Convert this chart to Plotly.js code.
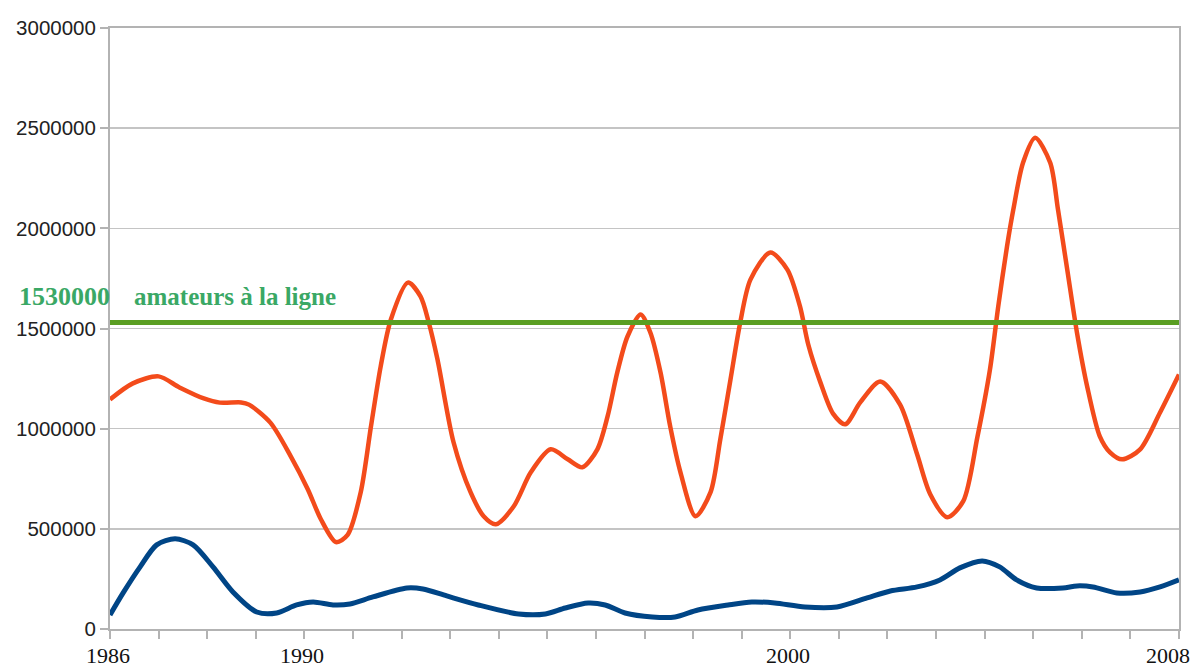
<!DOCTYPE html>
<html>
<head>
<meta charset="utf-8">
<script src="https://cdn.plot.ly/plotly-3.0.1.min.js"></script>
<style>html,body{margin:0;padding:0;background:#fff;}#chart{width:1193px;height:672px;}</style>
</head>
<body>
<div id="chart"></div>
<script>
// Orange series (years, values)
const orangeYears = [1986.00,1986.47,1987.00,1987.43,1987.93,1988.26,1988.70,1988.86,1989.30,1989.72,1990.07,1990.34,1990.65,1990.89,1991.16,1991.37,1991.57,1991.78,1992.13,1992.39,1992.56,1992.74,1993.07,1993.42,1993.69,1993.94,1994.31,1994.66,1995.07,1995.42,1995.72,1996.03,1996.24,1996.44,1996.65,1996.92,1997.12,1997.33,1997.53,1997.74,1998.05,1998.36,1998.56,1998.77,1998.97,1999.18,1999.59,1999.94,2000.20,2000.37,2000.62,2000.88,2001.13,2001.44,2001.85,2002.26,2002.61,2002.88,2003.23,2003.56,2003.85,2004.11,2004.28,2004.46,2004.59,2004.79,2005.04,2005.35,2005.51,2005.70,2005.90,2006.11,2006.37,2006.58,2006.83,2007.20,2007.61,2008.00];
const orangeValues = [1146000,1226000,1261000,1206000,1151000,1130000,1131000,1120000,1030000,862000,698000,548000,434000,470000,683000,1010000,1310000,1545000,1729000,1660000,1530000,1345000,932000,683000,563000,523000,613000,782000,897000,847000,807000,897000,1061000,1281000,1460000,1570000,1480000,1280000,1010000,782000,563000,683000,947000,1246000,1530000,1744000,1879000,1794000,1610000,1420000,1231000,1075000,1022000,1131000,1236000,1120000,872000,673000,558000,638000,957000,1296000,1610000,1909000,2093000,2327000,2452000,2327000,2093000,1794000,1480000,1211000,962000,882000,847000,897000,1081000,1271000];

// Blue series (years, values)
const blueYears = [1986.00,1986.27,1986.62,1986.96,1987.34,1987.71,1988.12,1988.53,1989.02,1989.43,1989.84,1990.18,1990.59,1990.94,1991.41,1992.11,1992.44,1992.93,1993.58,1994.41,1994.96,1995.37,1995.84,1996.19,1996.60,1997.16,1997.63,1998.10,1998.72,1999.21,1999.68,2000.30,2000.96,2001.58,2002.06,2002.61,2003.08,2003.49,2003.95,2004.31,2004.66,2005.07,2005.61,2005.90,2006.23,2006.72,2007.20,2007.61,2008.00];
const blueValues = [70000,180000,310000,420000,450000,420000,310000,185000,85000,80000,120000,135000,120000,125000,160000,205000,200000,165000,120000,75000,75000,105000,130000,120000,80000,60000,60000,95000,120000,135000,130000,110000,110000,155000,190000,210000,245000,305000,340000,310000,245000,205000,205000,215000,210000,180000,185000,210000,245000];

// Threshold line
const thresholdYears = [1986, 2008];
const thresholdValue = 1530000;
const thresholdLabel = "amateurs à la ligne";

// Axis tick labels
const xTickYears = [1986, 1990, 2000, 2008];
const yTickValues = [0, 500000, 1000000, 1500000, 2000000, 2500000, 3000000];

const traces = [
  {x: blueYears, y: blueValues, type: 'scatter', mode: 'lines',
   line: {color: '#004586', width: 5, shape: 'spline', smoothing: 0.8}, hoverinfo: 'skip'},
  {x: orangeYears, y: orangeValues, type: 'scatter', mode: 'lines',
   line: {color: '#f34b1b', width: 4.5, shape: 'spline', smoothing: 0.8}, hoverinfo: 'skip'},
  {x: thresholdYears, y: thresholdYears.map(() => thresholdValue), type: 'scatter', mode: 'lines',
   line: {color: '#5a9e22', width: 5}, hoverinfo: 'skip'}
];

const annotations = xTickYears.map((yr, i) => ({
  x: yr, y: 0, xref: 'x', yref: 'y', showarrow: false,
  text: String(yr), yanchor: 'top', yshift: -12,
  xanchor: i === xTickYears.length - 1 ? 'right' : 'center',
  xshift: i === xTickYears.length - 1 ? 13 : -2,
  font: {family: 'Liberation Serif', size: 22, color: '#111'}
}));
annotations.push({
  x: thresholdYears[0], y: thresholdValue, xref: 'x', yref: 'y', showarrow: false,
  text: String(thresholdValue), xanchor: 'right', yanchor: 'middle', yshift: 26, xshift: 2,
  font: {family: 'Liberation Serif', size: 26, color: '#3aa865', weight: 'bold'}
});
annotations.push({
  x: thresholdYears[0], y: thresholdValue, xref: 'x', yref: 'y', showarrow: false,
  text: thresholdLabel, xanchor: 'left', yanchor: 'middle', yshift: 26, xshift: 22,
  font: {family: 'Liberation Serif', size: 25, color: '#3aa865', weight: 'bold'}
});

const layout = {
  width: 1193, height: 672,
  margin: {l: 110, r: 14, t: 28, b: 43},
  paper_bgcolor: '#fff', plot_bgcolor: '#fff',
  showlegend: false,
  font: {family: 'Liberation Sans', color: '#222'},
  xaxis: {
    range: [1986, 2008], tickmode: 'linear', tick0: 1986, dtick: 1,
    showticklabels: false, ticks: 'outside', ticklen: 8, tickwidth: 2, tickcolor: '#b3b3b3',
    showgrid: false, zeroline: false,
    showline: true, mirror: true, linecolor: '#b3b3b3', linewidth: 2
  },
  yaxis: {
    range: [0, 3000000], tickmode: 'array', tickvals: yTickValues,
    ticktext: yTickValues.map(v => String(v)),
    ticks: 'outside', ticklen: 8, tickwidth: 2, tickcolor: '#b3b3b3',
    tickfont: {family: 'Liberation Sans', size: 20.5, color: '#222'},
    showgrid: true, gridcolor: '#c4c4c4', gridwidth: 1.5, zeroline: false,
    showline: true, mirror: true, linecolor: '#b3b3b3', linewidth: 2
  },
  annotations: annotations
};

Plotly.newPlot('chart', traces, layout, {staticPlot: true, displayModeBar: false});
</script>
</body>
</html>
